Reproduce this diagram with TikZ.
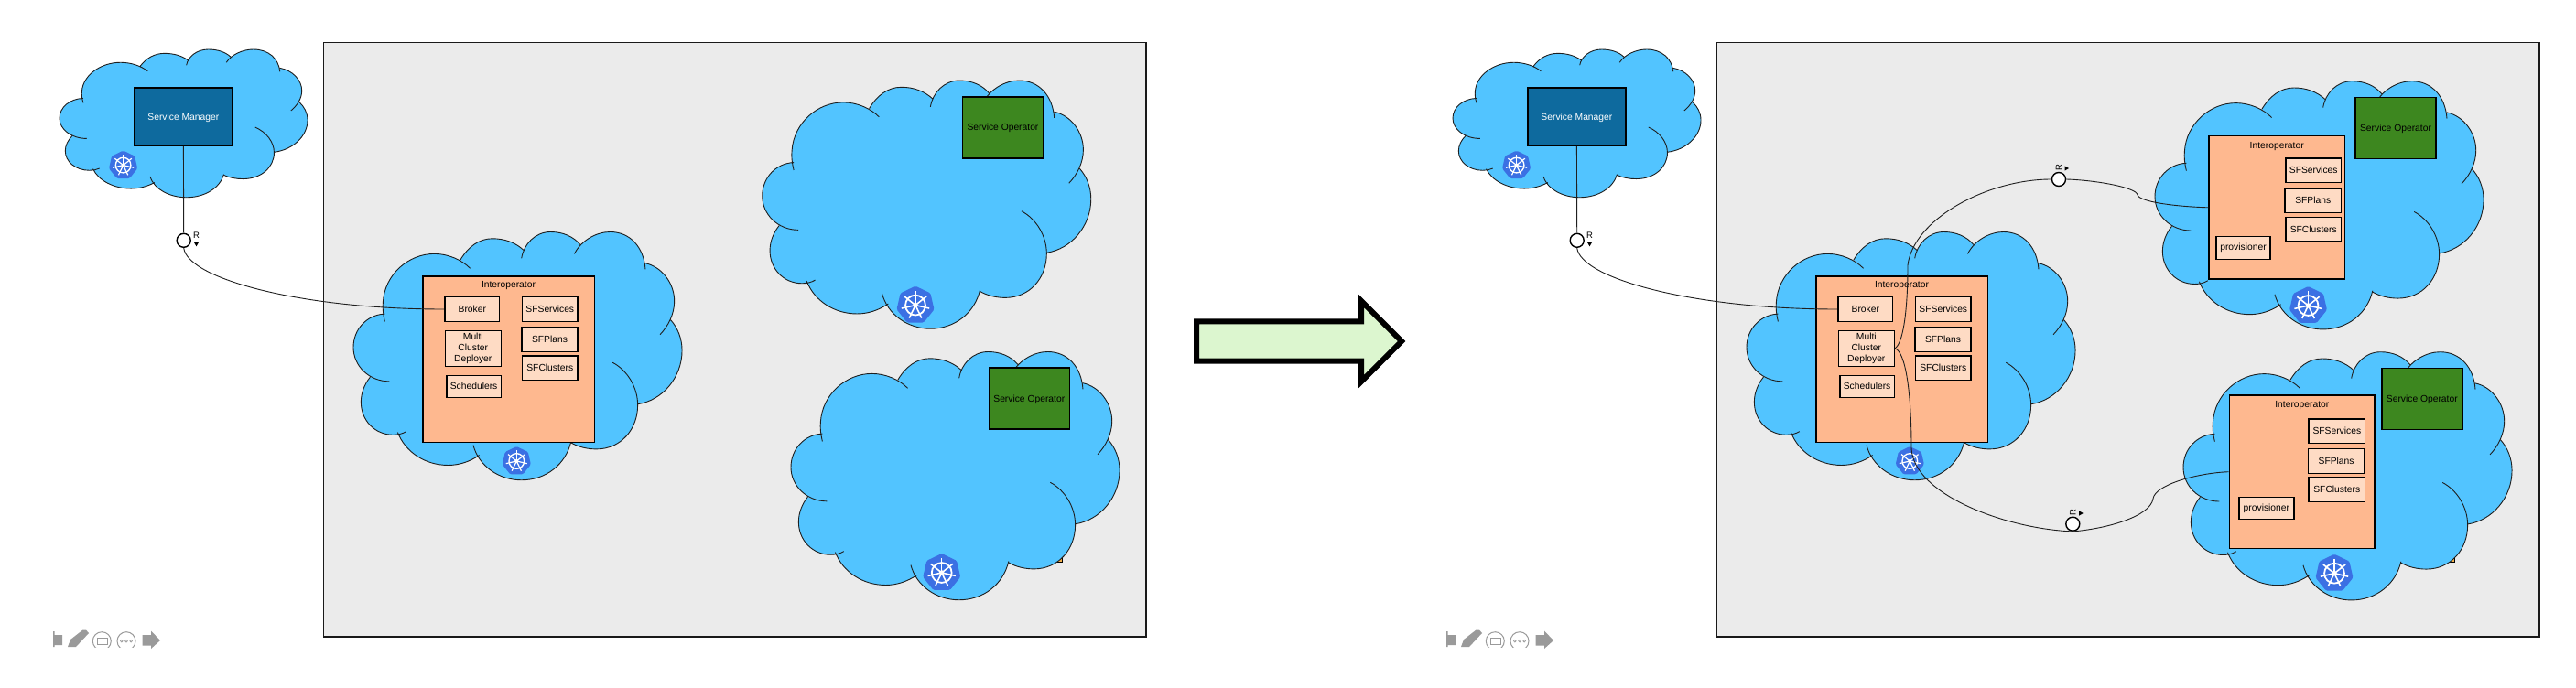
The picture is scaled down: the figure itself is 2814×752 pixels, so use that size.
\documentclass[tikz,border=0pt]{standalone}
\usepackage{fontspec}
\usepackage{xcolor}
\usepackage{tikz}
\usetikzlibrary{shapes.geometric}
\setmainfont{Liberation Sans}
\definecolor{cloudblue}{HTML}{52C4FF}
\definecolor{panelgray}{HTML}{EBEBEB}
\definecolor{smblue}{HTML}{0E6A9E}
\definecolor{opgreen}{HTML}{3D871F}
\definecolor{ioorange}{HTML}{FEB88F}
\definecolor{ioinner}{HTML}{FEDBC4}
\definecolor{kubeblue}{HTML}{3B70E3}
\definecolor{toolgray}{HTML}{9A9A9A}
\definecolor{arrowgreen}{HTML}{DCF6CF}
\definecolor{hiddenorange}{HTML}{F2B04A}
% one outline, lobe by lobe; #1 joins the lobes (-- to fill, nothing to stroke)
\newcommand{\cloudoutline}[1]{
  (178,335) .. controls (172,310) and (170,290) .. (172,270) .. controls (178,180) and (255,112) .. (340,112) .. controls (385,112) and (430,132) .. (457,160) #1
  (425,132) .. controls (450,90) and (485,62) .. (530,62) .. controls (570,62) and (605,75) .. (632,100) #1
  (625,127) .. controls (632,80) and (670,40) .. (720,40) .. controls (760,40) and (795,55) .. (817,82) #1
  (798,112) .. controls (820,68) and (870,40) .. (915,40) .. controls (980,40) and (1025,90) .. (1030,163) #1
  (1030,143) .. controls (1085,155) and (1125,210) .. (1125,268) .. controls (1125,310) and (1105,350) .. (1078,378) #1
  (1113,330) .. controls (1135,355) and (1150,390) .. (1150,430) .. controls (1150,520) and (1085,595) .. (1005,607) #1
  (923,470) .. controls (970,495) and (1005,550) .. (1005,610) .. controls (1005,690) and (950,755) .. (870,755) .. controls (840,755) and (810,748) .. (785,733) #1
  (787,730) .. controls (770,805) and (705,857) .. (625,857) .. controls (550,857) and (485,810) .. (467,742) #1
  (487,775) .. controls (455,797) and (420,808) .. (385,808) .. controls (310,808) and (245,765) .. (220,700) #1
  (248,697) .. controls (235,705) and (220,708) .. (205,708) .. controls (145,708) and (100,660) .. (100,600) .. controls (100,570) and (112,540) .. (130,518) #1
  (193,532) .. controls (125,532) and (75,480) .. (75,420) .. controls (75,360) and (120,312) .. (178,310)
}
\tikzset{
    every picture/.style={line cap=butt,line join=miter},
    panelbox/.style={draw=black!90,fill=panelgray,line width=1.5pt},
    smbox/.style={draw=black,fill=smblue,line width=1.6pt,minimum width=107,minimum height=63,
      inner sep=0pt,text=white,align=center,text depth=0pt},
    opbox/.style={draw=black,fill=opgreen,line width=1.6pt,minimum width=88,minimum height=67,
      inner sep=0pt,text=black,align=center,text depth=0pt},
    iobox/.style={draw=black,fill=ioorange,line width=1.6pt,inner sep=0pt},
    innerbox/.style={draw=black,fill=ioinner,line width=1.5pt,inner sep=0pt,align=center},
    lockcircle/.style={circle,draw=black,fill=white,line width=1.4pt,minimum size=15,inner sep=0pt},
    rlabel/.style={inner sep=0pt,font=\fontsize{9.5}{10}\selectfont},
    rtip/.style={regular polygon,regular polygon sides=3,fill=black,minimum size=6.5,inner sep=0pt},
    wirecurve/.style={draw=black!88,line width=0.9pt},
    pics/cloudshape/.style={code={
      \begin{scope}[shift={(-75,-40)}]
        \fill[cloudblue] \cloudoutline{--} -- cycle;
        \draw[black!88,line width=0.9pt] \cloudoutline{};
      \end{scope}}},
    pics/kubeicon/.style={code={
      \begin{scope}[scale=#1]
        \fill[kubeblue,rounded corners=1.5] (-90:1) \foreach \k in {1,...,6}{-- (-90+\k*51.43:1)} -- cycle;
        \draw[white,line width=#1*0.085pt] (0,0) circle (.52);
        \foreach \k in {0,...,6}{
          \draw[white,line width=#1*0.075pt] (0,0) -- (-90+\k*51.43:.74);}
        \fill[white] (0,0) circle (.13);
      \end{scope}}},
    pics/toolbar/.style={code={
      \fill[toolgray] (58,690) -- (59.5,690) -- (59.5,694) -- (68,694) -- (68,705) -- (59.5,705) -- (59.5,707) -- (58,707) -- cycle;
      \fill[toolgray] (74,707) -- (77,699) -- (90.5,688.5) -- (94,688.5) -- (97,692) -- (83,707) -- cycle;
      \begin{scope}
        \clip (100,685) rectangle (150,707.5);
        \draw[toolgray,line width=1pt] (111.3,700.7) circle (10) (138,700.7) circle (10);
      \end{scope}
      \draw[toolgray,line width=.8pt] (106,697) rectangle (117,704.5);
      \foreach \dx in {132.8,138,143.2}{
        \draw[toolgray,line width=.7pt] (\dx,700.7) circle (1.3);}
      \fill[toolgray] (155.7,694) -- (165,694) -- (165,689.5) -- (175,700) -- (165,709) -- (165,705.5) -- (155.7,705.5) -- cycle;}},
}
\begin{document}
\begin{tikzpicture}[x=1pt,y=-1pt,font=\fontsize{10.3}{12}\selectfont]
  \useasboundingbox (0,0) rectangle (2814,752);
  % both panels share the frame, the manager and the first interoperator
  \foreach \off/\p in {0/l,1522/r}{
    \begin{scope}[xshift=\off]
      \draw[panelbox] (353.6,46.5) rectangle (1252,696);
      \pic[xscale=.2521,yscale=.198] at (65,54) {cloudshape};
      \pic at (134.6,180.6) {kubeicon=16};
      \node[smbox] (sm\p) at (200.4,127.6) {Service Manager};
      \node[lockcircle] (smlock\p) at (200.7,262.8) {};
      \node[rlabel] (smr\p) at (214.5,257.5) {R};
      \node[rtip,shape border rotate=180,minimum size=6] (smtip\p) at (214.5,266.3) {};
      \draw[wirecurve] (sm\p.south) -- (smlock\p.north);
      \pic[xscale=.334,yscale=.332] at (386,253.5) {cloudshape};
      \pic at (564.3,504) {kubeicon=16};
      \node[iobox,minimum width=187.6,minimum height=181.3] (io\p) at (555.5,392.7) {};
      \node[inner sep=0pt] (iotitle\p) at (555.5,312.5) {Interoperator};
      \node[innerbox,minimum width=59.7,minimum height=26.6] (broker\p) at (515.8,338) {Broker};
      \node[innerbox,minimum width=61,minimum height=39] (mcd\p) at (516.8,380.8) {Multi\\Cluster\\Deployer};
      \node[innerbox,minimum width=59.3,minimum height=24] (sched\p) at (517.6,422.3) {Schedulers};
      \node[innerbox,minimum width=60.3,minimum height=26.6] (sfs\p) at (600.8,338) {SFServices};
      \node[innerbox,minimum width=61,minimum height=26.6] (sfp\p) at (600.5,371) {SFPlans};
      \node[innerbox,minimum width=60.3,minimum height=26.6] (sfc\p) at (600.8,402.3) {SFClusters};
      \draw[wirecurve] (smlock\p.south) .. controls (205,305) and (330,338) .. (broker\p.west);
      \pic at (0,0) {toolbar};
    \end{scope}}
  % left panel, operators only
  \fill[hiddenorange,draw=black,line width=1pt] (1145,600) rectangle (1160,614);
  \pic[xscale=.334,yscale=.332] at (832.7,88) {cloudshape};
  \pic at (1000,333.6) {kubeicon=21};
  \node[opbox] (opa) at (1095.5,139.2) {Service Operator};
  \pic[xscale=.334,yscale=.332] at (864,384.5) {cloudshape};
  \pic at (1028.7,626) {kubeicon=21};
  \node[opbox] (opb) at (1124.3,435.5) {Service Operator};
  % the arrow between the panels
  \draw[fill=arrowgreen,line width=6pt] (1307,351.3) -- (1487,351.3) -- (1487,329) -- (1531,373)
    -- (1487,417) -- (1487,394.7) -- (1307,394.7) -- cycle;
  % right panel, upper operator
  \pic[xscale=.334,yscale=.332] at (2354,88.7) {cloudshape};
  \pic at (2521.5,334) {kubeicon=21};
  \node[opbox] (opc) at (2617,139.8) {Service Operator};
  \node[iobox,minimum width=148.3,minimum height=156.3] (ioc) at (2487.2,226.8) {};
  \node[inner sep=0pt] (ioctitle) at (2487.2,159.8) {Interoperator};
  \node[innerbox,minimum width=60.4,minimum height=26.7] (sfsc) at (2527.2,186.3) {SFServices};
  \node[innerbox,minimum width=61.4,minimum height=26.7] (sfpc) at (2526.7,219.3) {SFPlans};
  \node[innerbox,minimum width=60.4,minimum height=26.7] (sfcc) at (2527.2,250.7) {SFClusters};
  \node[innerbox,minimum width=59,minimum height=25] (provc) at (2450.5,270.8) {provisioner};
  % right panel, lower operator
  \fill[hiddenorange,draw=black,line width=1pt] (2667,600) rectangle (2681.4,614);
  \pic[xscale=.334,yscale=.332] at (2385,384.7) {cloudshape};
  \pic at (2550,626.7) {kubeicon=21};
  \node[opbox] (opd) at (2645.8,435.8) {Service Operator};
  \node[iobox,minimum width=158.8,minimum height=167.3] (iod) at (2514.8,515.7) {};
  \node[inner sep=0pt] (iodtitle) at (2514.8,443.2) {Interoperator};
  \node[innerbox,minimum width=61.5,minimum height=26.7] (sfsd) at (2552.8,471.3) {SFServices};
  \node[innerbox,minimum width=61.2,minimum height=27] (sfpd) at (2552.1,503.8) {SFPlans};
  \node[innerbox,minimum width=61.5,minimum height=26.7] (sfcd) at (2552.8,535) {SFClusters};
  \node[innerbox,minimum width=59.8,minimum height=24.4] (provd) at (2475.9,555.5) {provisioner};
  % links from the deployer out to the two operators
  \node[lockcircle] (locku) at (2249,196) {};
  \node[rlabel,rotate=90] (ru) at (2249,183.5) {R};
  \node[rtip,shape border rotate=-90,minimum size=6] (tipu) at (2257,184) {};
  \node[lockcircle] (lockd) at (2264.3,572.7) {};
  \node[rlabel,rotate=90] (rd) at (2264.3,560.5) {R};
  \node[rtip,shape border rotate=-90,minimum size=6] (tipd) at (2272.7,561) {};
  \draw[wirecurve] (mcdr.east) .. controls (2079,375) and (2084,340) .. (2084,290)
    .. controls (2090,240) and (2170,196) .. (locku.west);
  \draw[wirecurve] (locku.east) .. controls (2290,197) and (2334,205) .. (2335,213)
    .. controls (2337,221) and (2380,226) .. (ioc.west);
  \draw[wirecurve] (mcdr.east) .. controls (2082,385) and (2088,430) .. (2088,490)
    .. controls (2090,540) and (2190,578) .. (lockd.south);
  \draw[wirecurve] (lockd.south) .. controls (2300,578) and (2349,565) .. (2352,545)
    .. controls (2354,530) and (2400,517) .. (iod.west);
\end{tikzpicture}
\end{document}
